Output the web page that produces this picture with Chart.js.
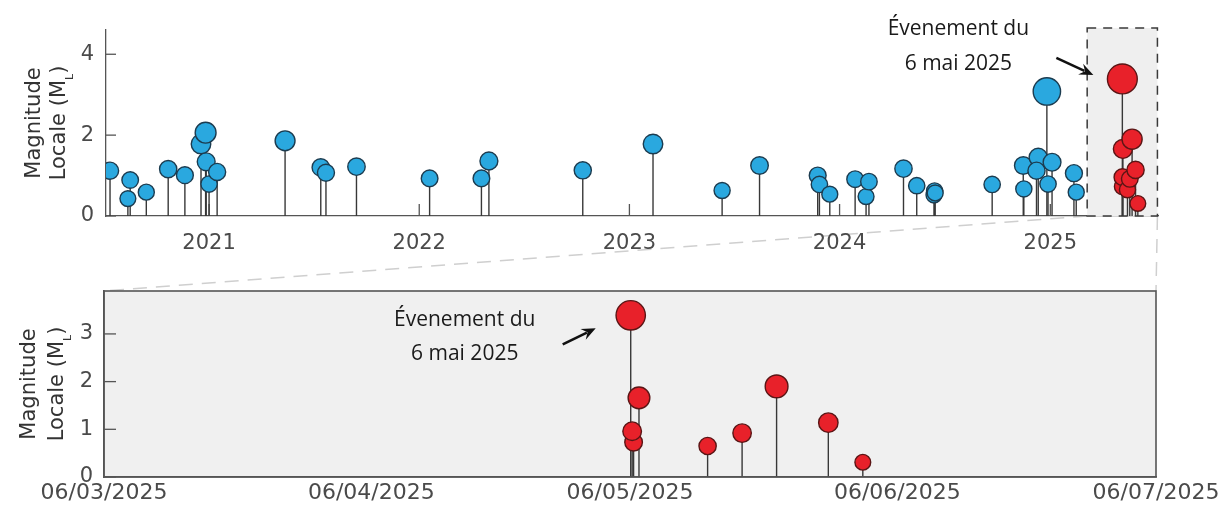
<!DOCTYPE html>
<html>
<head>
<meta charset="utf-8">
<script src="https://cdn.jsdelivr.net/npm/chart.js@4.4.1/dist/chart.umd.min.js"></script>
<style>
  html, body { margin: 0; padding: 0; background: #fff; }
  #cadre { position: relative; width: 1229px; height: 512px; }
  canvas { position: absolute; left: 0; }
  #liens { top: 0; }
  #haut { top: 0; }
  #bas { top: 262px; }
</style>
</head>
<body>
<div id="cadre">
  <canvas id="liens" width="1229" height="512"></canvas>
  <canvas id="haut" width="1229" height="262"></canvas>
  <canvas id="bas" width="1229" height="250"></canvas>
</div>
<script>
// séismes avant la séquence (bleu)
const blueDates = [
  '2020-07-13', '2020-08-13', '2020-08-17', '2020-09-14', '2020-10-22', '2020-11-20',
  '2020-12-18', '2020-12-26', '2020-12-27', '2021-01-01',
  '2021-01-15', '2021-05-13', '2021-07-14', '2021-07-23', '2021-09-14', '2022-01-19',
  '2022-04-19', '2022-05-02', '2022-10-12', '2023-02-11', '2023-06-11', '2023-08-15',
  '2023-11-24', '2023-11-27', '2023-12-15', '2024-01-28', '2024-02-16', '2024-02-21',
  '2024-04-21', '2024-05-14', '2024-06-13', '2024-06-14', '2024-06-15', '2024-09-22',
  '2024-11-15', '2024-11-16', '2024-12-11', '2024-12-08', '2024-12-26', '2024-12-28',
  '2025-01-04', '2025-02-11', '2025-02-15'
];
const blueMagnitudes = [
  1.12, 0.43, 0.89, 0.59, 1.16, 1.01,
  1.78, 2.06, 1.34, 0.79,
  1.09, 1.86, 1.20, 1.07, 1.22, 0.93,
  0.93, 1.36, 1.13, 1.78, 0.63, 1.25,
  1.00, 0.78, 0.54, 0.91, 0.48, 0.85,
  1.17, 0.75, 0.52, 0.62, 0.57, 0.78,
  1.25, 0.67, 1.45, 1.12, 3.08, 0.79,
  1.33, 1.06, 0.59
];
// séquence de mai 2025 (rouge)
const redDates = [
  '2025-05-06T02:00', '2025-05-06T10:00', '2025-05-06T06:00', '2025-05-07T01:00',
  '2025-05-15T00:00', '2025-05-19T00:00', '2025-05-23T00:00', '2025-05-29T00:00', '2025-06-02T00:00'
];
const redMagnitudes = [3.39, 0.73, 0.96, 1.66, 0.65, 0.92, 1.90, 1.14, 0.31];

const yearTicks = [2021, 2022, 2023, 2024, 2025];
const topYTicks = [0, 2, 4];
const bottomYTicks = [0, 1, 2, 3];
const bottomDateTicks = ['2025-03-06', '2025-04-06', '2025-05-06', '2025-06-06', '2025-07-06'];
const topRange = ['2020-07-06', '2025-07-07'];
const zoomRange = ['2025-03-06', '2025-07-06'];
const annotationLines = ['Évenement du', '6 mai 2025'];

const jour = s => Date.parse(s.length === 10 ? s + 'T00:00:00Z' : s + ':00Z') / 864e5;
const points = (dates, mags) => dates.map((d, i) => ({ x: jour(d), y: mags[i] }));
const deuxChiffres = n => String(n).padStart(2, '0');

const police = 'DejaVu Sans';
const gris = '#4a4a4a';

function tiges(chart) {
  const ctx = chart.ctx;
  const y0 = chart.scales.y.getPixelForValue(0);
  ctx.save();
  ctx.strokeStyle = '#383838';
  ctx.lineWidth = 1.4;
  chart.data.datasets.forEach((ds, i) => {
    chart.getDatasetMeta(i).data.forEach(pt => {
      ctx.beginPath();
      ctx.moveTo(pt.x, y0);
      ctx.lineTo(pt.x, pt.y);
      ctx.stroke();
    });
  });
  ctx.restore();
}

function titreAxe(chart, x1, x2) {
  const ctx = chart.ctx;
  const a = chart.chartArea;
  const yc = (a.top + a.bottom) / 2;
  const grand = '21px "' + police + '"', petit = '11px "' + police + '"';
  ctx.save();
  ctx.fillStyle = '#333';
  ctx.textBaseline = 'alphabetic';
  ctx.textAlign = 'center';
  ctx.font = grand;
  ctx.translate(x1, yc);
  ctx.rotate(-Math.PI / 2);
  ctx.fillText('Magnitude', 0, 0);
  ctx.restore();

  ctx.save();
  ctx.fillStyle = '#333';
  ctx.textBaseline = 'alphabetic';
  ctx.textAlign = 'left';
  ctx.translate(x2, yc);
  ctx.rotate(-Math.PI / 2);
  ctx.font = grand;
  const w1 = ctx.measureText('Locale (M').width;
  const w3 = ctx.measureText(')').width;
  ctx.font = petit;
  const w2 = ctx.measureText('L').width;
  let x = -(w1 + w2 + w3) / 2;
  ctx.font = grand;
  ctx.fillText('Locale (M', x, 0);
  x += w1;
  ctx.font = petit;
  ctx.fillText('L', x, 8);
  x += w2;
  ctx.font = grand;
  ctx.fillText(')', x, 0);
  ctx.restore();
}

function fleche(ctx, x1, y1, x2, y2) {
  const ang = Math.atan2(y2 - y1, x2 - x1);
  const c = Math.cos(ang), s = Math.sin(ang);
  const L = 14, W = 6;
  ctx.save();
  ctx.strokeStyle = '#111';
  ctx.fillStyle = '#111';
  ctx.lineWidth = 2.6;
  ctx.beginPath();
  ctx.moveTo(x1, y1);
  ctx.lineTo(x2 - L * 0.7 * c, y2 - L * 0.7 * s);
  ctx.stroke();
  ctx.beginPath();
  ctx.moveTo(x2, y2);
  ctx.lineTo(x2 - L * c + W * s, y2 - L * s - W * c);
  ctx.lineTo(x2 - L * 0.65 * c, y2 - L * 0.65 * s);
  ctx.lineTo(x2 - L * c - W * s, y2 - L * s + W * c);
  ctx.closePath();
  ctx.fill();
  ctx.restore();
}

// repère de l'événement principal (plus forte magnitude rouge)
function annotation(chart, dsIndex, o) {
  const meta = chart.getDatasetMeta(dsIndex);
  const data = chart.data.datasets[dsIndex].data;
  let k = 0;
  data.forEach((d, i) => { if (d.y > data[k].y) k = i; });
  const px = meta.data[k].x, py = meta.data[k].y;
  const ctx = chart.ctx;
  ctx.save();
  ctx.fillStyle = '#1a1a1a';
  ctx.font = '21px "Open Sans"';
  ctx.textAlign = 'center';
  ctx.textBaseline = 'alphabetic';
  ctx.fillText(annotationLines[0], px + o.dx, py + o.y1);
  ctx.fillText(annotationLines[1], px + o.dx, py + o.y2);
  ctx.restore();
  fleche(ctx, px + o.tail[0], py + o.tail[1], px + o.tip[0], py + o.tip[1]);
}

const decorHaut = {
  id: 'decorHaut',
  beforeDatasetsDraw(chart) {
    const ctx = chart.ctx, sx = chart.scales.x, sy = chart.scales.y;
    const x1 = sx.getPixelForValue(jour(zoomRange[0]));
    const x2 = sx.getPixelForValue(jour(zoomRange[1]));
    const y1 = sy.getPixelForValue(4.65);
    const y0 = sy.getPixelForValue(0);
    ctx.save();
    ctx.fillStyle = '#efefef';
    ctx.fillRect(x1, y1, x2 - x1, y0 - y1);
    ctx.strokeStyle = '#3a3a3a';
    ctx.lineWidth = 1.5;
    ctx.setLineDash([9, 7]);
    ctx.strokeRect(x1, y1, x2 - x1, y0 - y1);
    ctx.setLineDash([]);
    // graduations vers l'intérieur
    ctx.strokeStyle = '#555';
    ctx.lineWidth = 1.3;
    const a = chart.chartArea;
    sx.ticks.forEach(t => {
      const x = sx.getPixelForValue(t.value);
      ctx.beginPath(); ctx.moveTo(x, a.bottom); ctx.lineTo(x, a.bottom - 12); ctx.stroke();
    });
    sy.ticks.forEach(t => {
      const y = sy.getPixelForValue(t.value);
      ctx.beginPath(); ctx.moveTo(a.left, y); ctx.lineTo(a.left + 10, y); ctx.stroke();
    });
    ctx.restore();
    tiges(chart);
  },
  afterDraw(chart) {
    titreAxe(chart, 40, 65);
    annotation(chart, 1, { dx: -164, y1: -44, y2: -9, tail: [-66, -21], tip: [-29, -4] });
  }
};

const decorBas = {
  id: 'decorBas',
  beforeDraw(chart) {
    const a = chart.chartArea, ctx = chart.ctx;
    ctx.save();
    ctx.fillStyle = '#f0f0f0';
    ctx.fillRect(a.left, a.top, a.right - a.left, a.bottom - a.top);
    ctx.restore();
  },
  beforeDatasetsDraw(chart) {
    const ctx = chart.ctx, a = chart.chartArea, sy = chart.scales.y;
    ctx.save();
    ctx.strokeStyle = '#555';
    ctx.lineWidth = 1.3;
    sy.ticks.forEach(t => {
      const y = sy.getPixelForValue(t.value);
      ctx.beginPath(); ctx.moveTo(a.left, y); ctx.lineTo(a.left + 12, y); ctx.stroke();
    });
    ctx.restore();
    tiges(chart);
  },
  afterDraw(chart) {
    const a = chart.chartArea, ctx = chart.ctx;
    ctx.save();
    ctx.strokeStyle = '#555';
    ctx.lineWidth = 1.6;
    ctx.strokeRect(a.left, a.top, a.right - a.left, a.bottom - a.top);
    ctx.restore();
    titreAxe(chart, 35, 63);
    annotation(chart, 0, { dx: -166, y1: 11, y2: 44.5, tail: [-68, 29], tip: [-35, 13] });
  }
};

const bleu = { backgroundColor: '#2aa8df', borderColor: '#1c3c50', borderWidth: 1.4 };
const rouge = { backgroundColor: '#e8212a', borderColor: '#5a1515', borderWidth: 1.4 };
const rayonHaut = c => 7.8 + 0.62 * c.raw.y * c.raw.y;
const rayonBas = c => 7.2 + 2.2 * c.raw.y;

const haut = new Chart(document.getElementById('haut'), {
  type: 'scatter',
  data: {
    datasets: [
      Object.assign({ data: points(blueDates, blueMagnitudes), pointRadius: rayonHaut }, bleu),
      Object.assign({ data: points(redDates, redMagnitudes), pointRadius: rayonHaut }, rouge)
    ]
  },
  options: {
    responsive: false,
    animation: false,
    events: [],
    layout: { padding: { left: 0, right: 71, top: 30, bottom: 0 } },
    plugins: { legend: { display: false }, tooltip: { enabled: false } },
    scales: {
      x: {
        type: 'linear',
        min: jour(topRange[0]),
        max: jour(topRange[1]),
        afterBuildTicks: s => { s.ticks = yearTicks.map(a => ({ value: jour(a + '-01-01') })); },
        afterFit: s => { s.height = 46; },
        grid: { drawOnChartArea: false, drawTicks: false },
        border: { display: true, color: '#555', width: 1.3 },
        ticks: {
          autoSkip: false, maxRotation: 0, padding: 15, color: gris,
          font: { family: police, size: 21 },
          callback: v => String(new Date(v * 864e5).getUTCFullYear())
        }
      },
      y: {
        min: 0,
        max: 4.6,
        afterBuildTicks: s => { s.ticks = topYTicks.map(v => ({ value: v })); },
        afterFit: s => { s.width = 106; },
        grid: { drawOnChartArea: false, drawTicks: false },
        border: { display: true, color: '#555', width: 1.3 },
        ticks: { padding: 12, color: gris, font: { family: police, size: 21 } }
      }
    }
  },
  plugins: [decorHaut]
});

const bas = new Chart(document.getElementById('bas'), {
  type: 'scatter',
  data: {
    datasets: [
      Object.assign({ data: points(redDates, redMagnitudes), pointRadius: rayonBas }, rouge)
    ]
  },
  options: {
    responsive: false,
    animation: false,
    events: [],
    layout: { padding: { left: 0, right: 73, top: 29, bottom: 0 } },
    plugins: { legend: { display: false }, tooltip: { enabled: false } },
    scales: {
      x: {
        type: 'linear',
        min: jour(zoomRange[0]),
        max: jour(zoomRange[1]),
        afterBuildTicks: s => { s.ticks = bottomDateTicks.map(d => ({ value: jour(d) })); },
        afterFit: s => { s.height = 35; },
        grid: { drawOnChartArea: false, drawTicks: false },
        border: { display: true, color: '#555', width: 1.6 },
        ticks: {
          autoSkip: false, maxRotation: 0, padding: 3, color: gris,
          font: { family: police, size: 22 },
          callback: v => {
            const d = new Date(v * 864e5);
            return deuxChiffres(d.getUTCDate()) + '/' + deuxChiffres(d.getUTCMonth() + 1) + '/' + d.getUTCFullYear();
          }
        }
      },
      y: {
        min: 0,
        max: 3.9,
        afterBuildTicks: s => { s.ticks = bottomYTicks.map(v => ({ value: v })); },
        afterFit: s => { s.width = 104; },
        grid: { drawOnChartArea: false, drawTicks: false },
        border: { display: true, color: '#555', width: 1.6 },
        ticks: { padding: 11, color: gris, font: { family: police, size: 21 } }
      }
    }
  },
  plugins: [decorBas]
});

// lignes pointillées reliant la boîte de zoom au graphique du bas
(function () {
  const ctx = document.getElementById('liens').getContext('2d');
  const decalage = 262;
  const sx = haut.scales.x, y0 = haut.scales.y.getPixelForValue(0);
  const a = bas.chartArea;
  ctx.strokeStyle = '#cfcfcf';
  ctx.lineWidth = 1.5;
  ctx.setLineDash([14, 9]);
  ctx.beginPath();
  ctx.moveTo(sx.getPixelForValue(jour(zoomRange[0])), y0);
  ctx.lineTo(a.left, a.top + decalage);
  ctx.moveTo(sx.getPixelForValue(jour(zoomRange[1])), y0);
  ctx.lineTo(a.right, a.top + decalage);
  ctx.stroke();
})();
</script>
</body>
</html>
